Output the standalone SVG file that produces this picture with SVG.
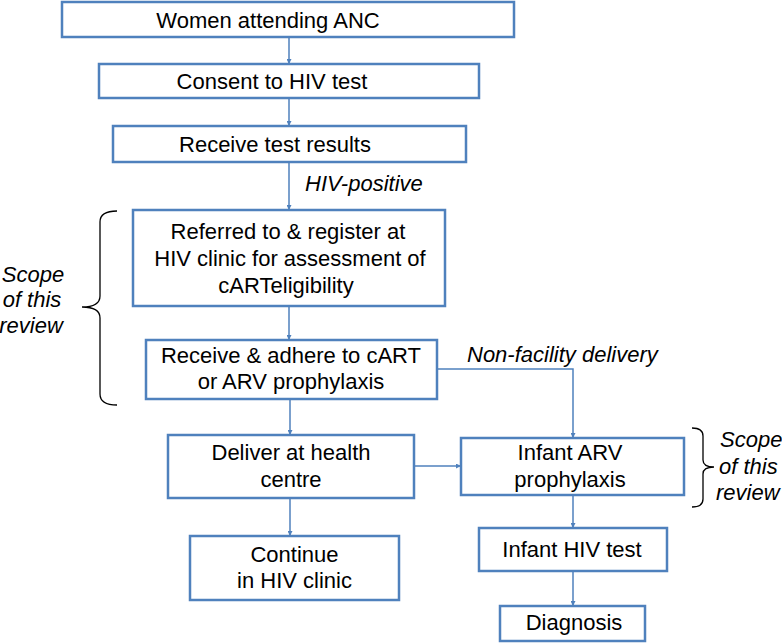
<svg xmlns="http://www.w3.org/2000/svg" width="782" height="643" viewBox="0 0 782 643">
<defs>
<style>
.box{fill:#fff;stroke:#4f81bd;stroke-width:2.5}
.t{font-family:"Liberation Sans",Arial,sans-serif;font-size:22px;fill:#000;text-anchor:middle}
.i{font-family:"Liberation Sans",Arial,sans-serif;font-size:22px;font-style:italic;fill:#000}
.c{fill:none;stroke:#4f81bd;stroke-width:1.5}
.br{fill:none;stroke:#000;stroke-width:1.3}
</style>
<marker id="ah" viewBox="0 0 8 8" refX="8" refY="4" markerWidth="5" markerHeight="5" orient="auto" markerUnits="userSpaceOnUse">
<path d="M0,0 L8,4 L0,8 z" fill="#4f81bd"/>
</marker>
</defs>
<rect width="782" height="643" fill="#fff"/>
<g id="connectors">
<line class="c" x1="289" y1="37" x2="289" y2="64" marker-end="url(#ah)"/>
<line class="c" x1="289" y1="98" x2="289" y2="126" marker-end="url(#ah)"/>
<line class="c" x1="289" y1="162" x2="289" y2="210" marker-end="url(#ah)"/>
<line class="c" x1="289" y1="306" x2="289" y2="340" marker-end="url(#ah)"/>
<line class="c" x1="290" y1="399" x2="290" y2="435" marker-end="url(#ah)"/>
<line class="c" x1="290" y1="498" x2="290" y2="536" marker-end="url(#ah)"/>
<polyline class="c" points="437,369 573,369 573,438" marker-end="url(#ah)"/>
<line class="c" x1="414" y1="466" x2="461" y2="466" marker-end="url(#ah)"/>
<line class="c" x1="573" y1="495" x2="573" y2="528" marker-end="url(#ah)"/>
<line class="c" x1="573" y1="571" x2="573" y2="606" marker-end="url(#ah)"/>
<text class="i" x="305" y="191">HIV-positive</text>
<text class="i" x="467" y="362">Non-facility delivery</text>
</g>
<g id="n1"><rect class="box" x="62" y="2" width="452" height="35"/><text class="t" x="268" y="28">Women attending ANC</text></g>
<g id="n2"><rect class="box" x="99" y="64" width="380" height="34"/><text class="t" x="272" y="89">Consent to HIV test</text></g>
<g id="n3"><rect class="box" x="113" y="126" width="353" height="36"/><text class="t" x="275" y="152">Receive test results</text></g>
<g id="n4"><rect class="box" x="133" y="210" width="312" height="96"/><text class="t" x="288" y="239">Referred to &amp; register at</text><text class="t" x="290" y="266">HIV clinic for assessment of</text><text class="t" x="286" y="293">cARTeligibility</text></g>
<g id="n5"><rect class="box" x="146" y="340" width="291" height="59"/><text class="t" x="291" y="363">Receive &amp; adhere to cART</text><text class="t" x="291" y="389">or ARV prophylaxis</text></g>
<g id="n6"><rect class="box" x="168" y="435" width="246" height="63"/><text class="t" x="291" y="460">Deliver at health</text><text class="t" x="291" y="487">centre</text></g>
<g id="n7"><rect class="box" x="190" y="536" width="209" height="64"/><text class="t" x="294.5" y="562">Continue</text><text class="t" x="294.5" y="588">in HIV clinic</text></g>
<g id="n8"><rect class="box" x="461" y="438" width="223" height="57"/><text class="t" x="570" y="460">Infant ARV</text><text class="t" x="570" y="487">prophylaxis</text></g>
<g id="n9"><rect class="box" x="479" y="528" width="188" height="43"/><text class="t" x="572" y="557">Infant HIV test</text></g>
<g id="n10"><rect class="box" x="500" y="606" width="145" height="35"/><text class="t" x="574" y="630">Diagnosis</text></g>
<g id="scope-left">
<path class="br" d="M117,211 Q100,211 100,222 L100,296 Q100,307 82,307 Q100,307 100,318 L100,394 Q100,405 117,405"/>
<text class="i" x="33" y="282" text-anchor="middle">Scope</text>
<text class="i" x="32" y="307" text-anchor="middle">of this</text>
<text class="i" x="31" y="333" text-anchor="middle">review</text>
</g>
<g id="scope-right">
<path class="br" d="M692,428 Q703,428 703,436 L703,460 Q703,467 714,467 Q703,467 703,474 L703,499 Q703,507 692,507"/>
<text class="i" x="720" y="447">Scope</text>
<text class="i" x="719" y="474">of this</text>
<text class="i" x="716" y="500">review</text>
</g>
</svg>
